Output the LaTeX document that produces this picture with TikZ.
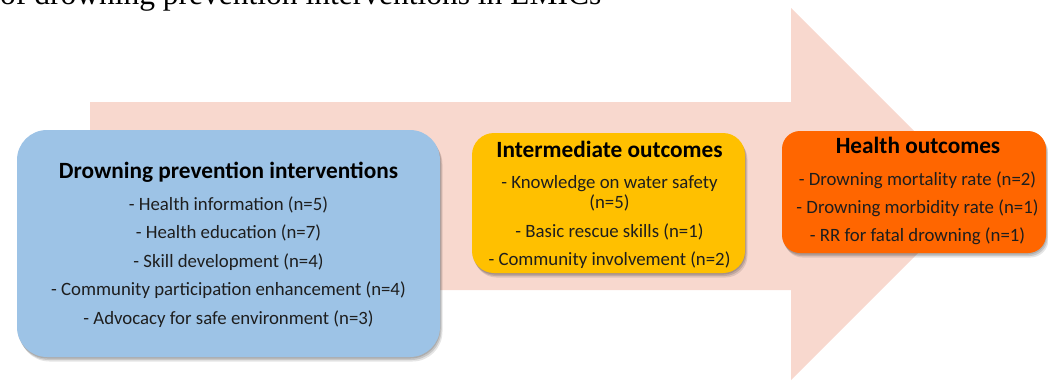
\documentclass[tikz,border=0pt]{standalone}
\usepackage{fontspec}
\setmainfont{Carlito}
\newfontfamily\serifhead{Liberation Serif}
\usetikzlibrary{shadows}
\definecolor{arrowpink}{RGB}{248,216,206}
\definecolor{boxblue}{RGB}{157,195,230}
\definecolor{boxyellow}{RGB}{255,192,0}
\definecolor{boxorange}{RGB}{255,102,0}
\definecolor{itemtext}{RGB}{30,30,30}
\tikzset{
  panel/.style={rounded corners=#1, inner sep=0pt, draw=none,
    general shadow={shadow xshift=0.5pt, shadow yshift=-1.5pt, fill=black, opacity=0.13},
    general shadow={shadow xshift=1.5pt, shadow yshift=-3pt, fill=black, opacity=0.13},
    general shadow={shadow xshift=2.5pt, shadow yshift=-4.5pt, fill=black, opacity=0.1}},
  paneltitle/.style={anchor=base, inner sep=0pt, font=\fontsize{23.3}{26}\selectfont\bfseries, text=black},
  panelitem/.style={anchor=base, inner sep=0pt, font=\fontsize{18.8}{21}\selectfont, text=itemtext},
}
\begin{document}
\begin{tikzpicture}[x=1pt, y=-1pt]
\useasboundingbox (0,0) rectangle (1048,380);
\begin{scope}
\clip (0,0) rectangle (1048,380);
% top caption line, cut off by the frame
\node[anchor=base west, inner sep=0pt, font=\serifhead\fontsize{31.5}{34}\selectfont] (caption) at (0,5) {of drowning prevention interventions in LMICs};
% big background arrow
\fill[arrowpink] (90,102) -- (791,102) -- (791,8) -- (977,194) -- (791,380) -- (791,290) -- (90,290) -- cycle;
\end{scope}
% blue panel
\node[panel=30pt, fill=boxblue, minimum width=423pt, minimum height=227pt] (inter) at (228.5,243.5) {};
\node[paneltitle] (interT) at (228.5,178) {Drowning prevention interventions};
\node[panelitem] (inter1) at (228.5,210) {- Health information (n=5)};
\node[panelitem] (inter2) at (228.5,238.5) {- Health education (n=7)};
\node[panelitem] (inter3) at (228.5,267) {- Skill development (n=4)};
\node[panelitem] (inter4) at (228.5,295.5) {- Community participation enhancement (n=4)};
\node[panelitem] (inter5) at (228.5,324) {- Advocacy for safe environment (n=3)};
% yellow panel
\node[panel=22pt, fill=boxyellow, minimum width=273pt, minimum height=140pt] (mid) at (608.5,203) {};
\node[paneltitle] (midT) at (609.5,157) {Intermediate outcomes};
\node[panelitem] (mid1) at (609.5,188) {- Knowledge on water safety};
\node[panelitem] (mid1b) at (609.5,208.5) {(n=5)};
\node[panelitem] (mid2) at (609.5,237) {- Basic rescue skills (n=1)};
\node[panelitem] (mid3) at (609.5,265) {- Community involvement (n=2)};
% orange panel
\node[panel=18pt, fill=boxorange, minimum width=264pt, minimum height=122pt] (health) at (914,192) {};
\node[paneltitle] (healthT) at (918,153) {Health outcomes};
\node[panelitem] (health1) at (917.5,185.5) {- Drowning mortality rate (n=2)};
\node[panelitem] (health2) at (917.5,213.5) {- Drowning morbidity rate (n=1)};
\node[panelitem] (health3) at (917.5,241.5) {- RR for fatal drowning (n=1)};
\end{tikzpicture}
\end{document}
